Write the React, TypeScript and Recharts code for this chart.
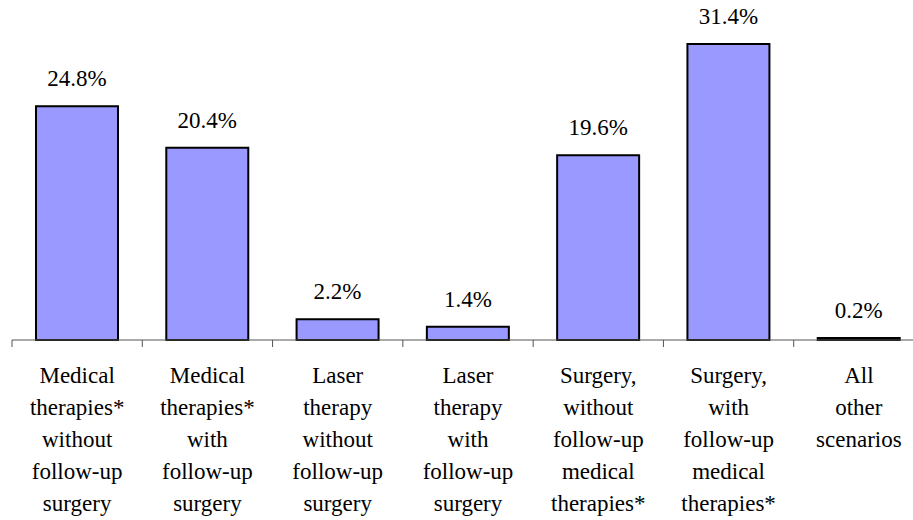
import { BarChart, Bar, XAxis, YAxis, LabelList } from "recharts";

const categories = [
  "Medical\ntherapies*\nwithout\nfollow-up\nsurgery",
  "Medical\ntherapies*\nwith\nfollow-up\nsurgery",
  "Laser\ntherapy\nwithout\nfollow-up\nsurgery",
  "Laser\ntherapy\nwith\nfollow-up\nsurgery",
  "Surgery,\nwithout\nfollow-up\nmedical\ntherapies*",
  "Surgery,\nwith\nfollow-up\nmedical\ntherapies*",
  "All\nother\nscenarios",
];
const shares = [24.8, 20.4, 2.2, 1.4, 19.6, 31.4, 0.2];
const yDomain = [0, 35];

const data = categories.map((name, i) => ({ name, value: shares[i] }));

const FONT = "'Times New Roman', 'Liberation Serif', 'DejaVu Serif', serif";
const CHART_W = 924;
const LEFT = 12;
const BAND = (CHART_W - LEFT) / categories.length;

const CategoryTick = ({ x, y, payload }: any) => {
  const lines = String(payload.value).split("\n");
  return (
    <g>
      <line x1={x - BAND / 2} x2={x - BAND / 2} y1={y} y2={y + 7} stroke="#555" strokeWidth={1} />
      <text x={x} y={y} textAnchor="middle" style={{ fontFamily: FONT, fontSize: 23 }} fill="#000">
        {lines.map((ln, i) => (
          <tspan key={i} x={x} dy={i === 0 ? 43 : 32}>
            {ln}
          </tspan>
        ))}
      </text>
    </g>
  );
};

export default function App() {
  return (
    <div
      style={{
        position: "absolute",
        left: 0,
        top: 0,
        width: 913,
        height: 520,
        overflow: "hidden",
        background: "#fff",
        fontFamily: FONT,
      }}
    >
      <BarChart
        width={CHART_W}
        height={520}
        data={data}
        margin={{ top: 10, right: 0, bottom: 0, left: LEFT }}
        barSize={82}
        style={{ fontFamily: FONT }}
      >
        <XAxis
          dataKey="name"
          height={180}
          interval={0}
          tickLine={false}
          tickSize={0}
          tickMargin={0}
          axisLine={{ stroke: "#555", strokeWidth: 1 }}
          tick={<CategoryTick />}
        />
        <YAxis hide domain={yDomain} />
        <Bar dataKey="value" fill="#9999FF" stroke="#000" strokeWidth={2} isAnimationActive={false}>
          <LabelList
            dataKey="value"
            position="top"
            offset={20}
            formatter={(v: any) => `${Number(v).toFixed(1)}%`}
            style={{ fontFamily: FONT, fontSize: 23 }}
            fill="#000"
          />
        </Bar>
      </BarChart>
    </div>
  );
}
